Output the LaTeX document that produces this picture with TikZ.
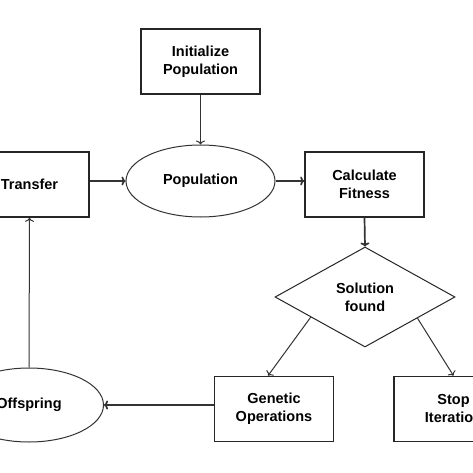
\documentclass[tikz,border=0pt]{standalone}
\usepackage{fontspec}
\setmainfont{Liberation Sans}
\usetikzlibrary{shapes.geometric,calc,arrows.meta}

\tikzset{
	stepbox/.style={draw=black!85, line width=1.6pt, minimum width=119pt, minimum height=65pt, align=center},
	popnode/.style={draw=black!80, ellipse, line width=1pt, minimum width=149pt, minimum height=72pt, align=center},
	decide/.style={draw=black!85, diamond, line width=1pt, minimum width=180pt, minimum height=100pt, inner sep=0pt, align=center},
	thin arrow/.style={-{To[length=4pt,width=9pt]}, draw=black!80, line width=1pt},
	thick arrow/.style={-{To[length=4pt,width=9pt]}, draw=black!80, line width=1.7pt}
}

\begin{document}
\begin{tikzpicture}[x=1pt, y=-1pt, font=\fontsize{14.5}{18}\selectfont\bfseries]
		% Page frame
		\useasboundingbox (0,0) rectangle (473,473);
		\clip (0,0) rectangle (473,473);
		\fill[white] (0,0) rectangle (473,473);

		% Boxes and ovals
		\node[stepbox] (init) at (200.5,61.5) {Initialize\\Population};
		\node[popnode] (pop) at (200.5,181) {Population};
		\node[stepbox] (transfer) at (29.5,184.5) {Transfer};
		\node[stepbox] (fitness) at (364.5,184.5) {Calculate\\Fitness};
		\node[decide] (solution) at (365,297) {Solution\\found};
		\node[stepbox] (genetic) at (274,409) {Genetic\\Operations};
		\node[stepbox] (stop) at (453.5,409) {Stop\\Iteration};
		\node[popnode, minimum height=74pt] (offspring) at (29,405) {Offspring};

		% Connectors
		\draw[thin arrow] (init.south) -- (pop.north);
		\draw[thick arrow] (transfer.east |- pop.west) -- (pop.west);
		\draw[thick arrow] (pop.east) -- (pop.east -| fitness.west);
		\draw[thick arrow] (fitness.south) -- (solution.north);
		\draw[thin arrow] ($(solution.west)!0.4!(solution.south)$) -- ([xshift=-6pt]genetic.north);
		\draw[thin arrow] ($(solution.east)!0.42!(solution.south)$) -- (stop.north);
		\draw[thick arrow] (genetic.west |- offspring.east) -- (offspring.east);
		\draw[thin arrow] (offspring.north) -- (transfer.south);
	\end{tikzpicture}
\end{document}
